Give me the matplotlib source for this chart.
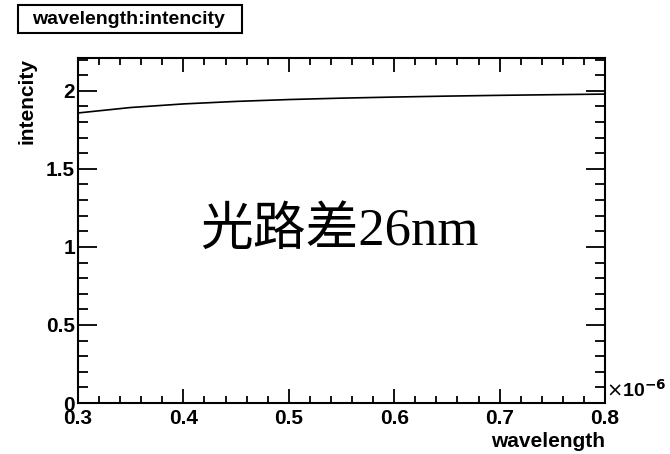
import matplotlib.pyplot as plt
from matplotlib.ticker import MultipleLocator, FixedLocator
from matplotlib.patches import Rectangle

# wavelength in units of 1e-6 m, intensity
wavelength = [0.30, 0.35, 0.40, 0.45, 0.50, 0.55, 0.60, 0.65, 0.70, 0.75, 0.80]
intencity = [1.858, 1.893, 1.916, 1.932, 1.944, 1.953, 1.960, 1.966, 1.971, 1.975, 1.979]

x_ticks = [0.3, 0.4, 0.5, 0.6, 0.7, 0.8]
y_ticks = [0, 0.5, 1, 1.5, 2]
y_tick_labels = ["0", "0.5", "1", "1.5", "2"]

plt.rcParams['font.family'] = ['Liberation Sans', 'DejaVu Sans']

fig = plt.figure(figsize=(6.7, 4.54), dpi=100)
ax = fig.add_axes([0.1164, 0.1123, 0.7866, 0.7599])

ax.plot(wavelength, intencity, color='black', lw=1.2)

ax.set_xlim(0.3, 0.8)
ax.set_ylim(0, 2.21)
ax.xaxis.set_major_locator(FixedLocator(x_ticks))
ax.xaxis.set_minor_locator(MultipleLocator(0.02))
ax.yaxis.set_major_locator(FixedLocator(y_ticks))
ax.yaxis.set_minor_locator(MultipleLocator(0.1))
ax.set_xticklabels([f"{v:.1f}" for v in x_ticks])
ax.set_yticklabels(y_tick_labels)

ax.tick_params(which='both', direction='in', top=True, right=True, width=1.3, color='black')
ax.tick_params(which='major', labelsize=15)
ax.tick_params(axis='x', which='major', length=10, pad=4)
ax.tick_params(axis='y', which='major', length=14, pad=2)
ax.tick_params(axis='x', which='minor', length=5)
ax.tick_params(axis='y', which='minor', length=7)
for lab in ax.get_xticklabels() + ax.get_yticklabels():
    lab.set_fontweight('bold')
for sp in ax.spines.values():
    sp.set_linewidth(1.5)

ax.set_xlabel("wavelength", fontsize=15, fontweight='bold', loc='right', labelpad=3)
ax.set_ylabel("intencity", fontsize=15, fontweight='bold', loc='top', labelpad=7)

ax.text(1.002, 0.005, r"$\times$10$^{\mathbf{-6}}$", transform=ax.transAxes,
        fontsize=14, fontweight='bold', ha='left', va='bottom')

ax.text(0.497, 0.496, "光路差26nm", transform=ax.transAxes,
        family=['Liberation Serif', 'Noto Sans CJK SC'], fontsize=38,
        ha='center', va='center')

# title box in the top-left corner
fig.patches.append(Rectangle((18 / 670, 1 - 33 / 454), 224 / 670, 28 / 454,
                             transform=fig.transFigure, facecolor='white',
                             edgecolor='black', lw=1.5))
fig.text(129 / 670, 1 - 19 / 454, "wavelength:intencity", fontsize=14,
         fontweight='bold', ha='center', va='center')

fig.savefig("out.png", dpi=100, facecolor='white')
